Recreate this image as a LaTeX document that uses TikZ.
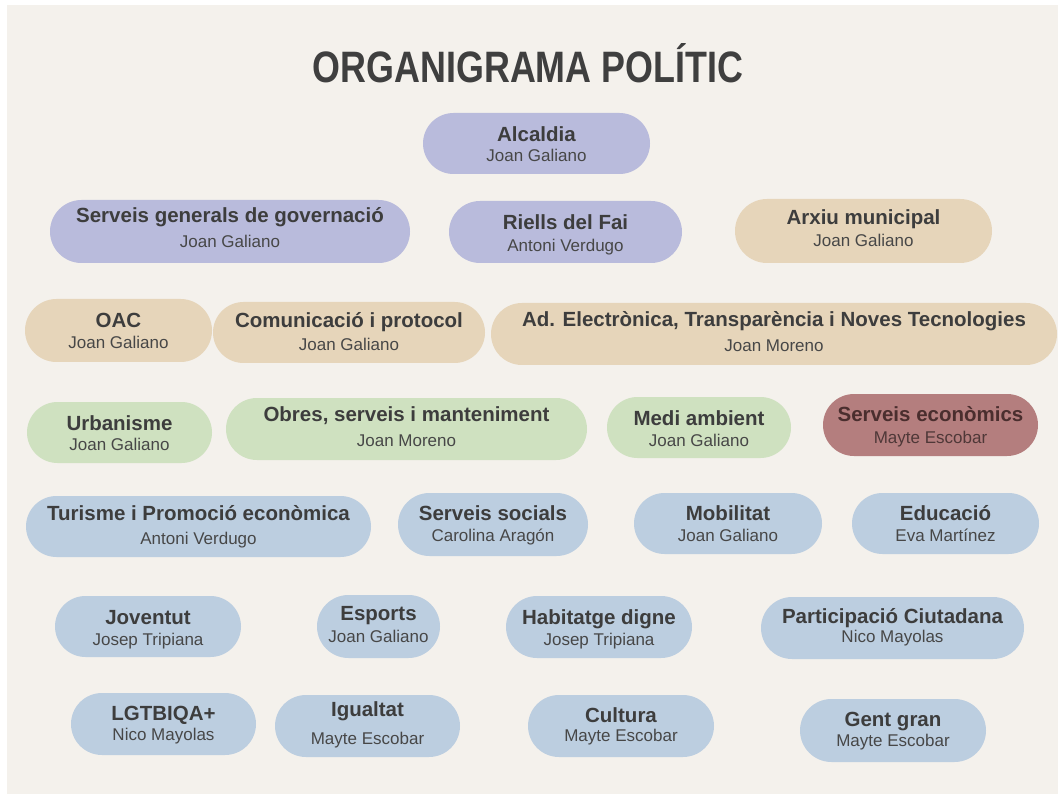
\documentclass[tikz,border=0pt]{standalone}
\usepackage{fontspec}
\setmainfont{Liberation Sans}
\usepackage{graphicx}
\definecolor{bgc}{HTML}{F4F1EC}
\definecolor{cpurple}{HTML}{B9BBDC}
\definecolor{cbeige}{HTML}{E6D5BA}
\definecolor{cgreen}{HTML}{CFE1C0}
\definecolor{cred}{HTML}{B47E7E}
\definecolor{cblue}{HTML}{BCCEE0}
\definecolor{tcol}{HTML}{3D3D3D}
\definecolor{ncol}{HTML}{474747}
\definecolor{titlec}{HTML}{3F3F3F}
\definecolor{redt}{HTML}{4A2E2E}
\definecolor{redn}{HTML}{4F3838}
\tikzset{
  boxshape/.style={rectangle, draw=none, inner sep=0pt, outer sep=0pt},
  ttl/.style={anchor=base, inner sep=0pt, text=tcol, font=\fontsize{20.5}{24}\selectfont\bfseries},
  nm/.style={anchor=base, inner sep=0pt, text=ncol, font=\fontsize{17}{20}\selectfont},
}
\newcommand\obox[6]{%
  \pgfmathsetmacro\obw{#4-#2}\pgfmathsetmacro\obh{#5-#3}%
  \pgfmathsetmacro\obcx{(#2+#4)/2}\pgfmathsetmacro\obcy{(#3+#5)/2}%
  \pgfmathsetmacro\obr{\obh/2}%
  \node[boxshape, fill=#6, minimum width=\obw pt, minimum height=\obh pt, rounded corners=\obr pt] (#1) at (\obcx,\obcy) {};}
\newcommand\otext[5]{%
  \node[ttl] (#1t) at (#1.center |- 0,#3) {#2};
  \node[nm] (#1n) at (#1.center |- 0,#5) {#4};}
\begin{document}
\begin{tikzpicture}[x=1pt,y=-1pt]
\fill[white] (0,0) rectangle (1058,794);
\fill[bgc] (7,5) rectangle (1058,794);
\useasboundingbox (0,0) rectangle (1058,794);
\node[anchor=base, inner sep=0pt, text=titlec, font=\fontsize{44}{50}\selectfont\bfseries] (title) at (528,83) {\scalebox{0.815}[1]{ORGANIGRAMA POLÍTIC}};
% row 1
\obox{alcaldia}{423}{113}{650}{174}{cpurple}
\otext{alcaldia}{Alcaldia}{142}{Joan Galiano}{162}
% row 2
\obox{sgg}{50}{200}{410}{263}{cpurple}
\otext{sgg}{Serveis generals de governació}{223}{Joan Galiano}{248}
\obox{riells}{449}{201}{682}{263}{cpurple}
\otext{riells}{Riells del Fai}{230}{Antoni Verdugo}{252}
\obox{arxiu}{735}{199}{992}{263}{cbeige}
\otext{arxiu}{Arxiu municipal}{225}{Joan Galiano}{246.5}
% row 3
\obox{oac}{25}{299}{212}{362}{cbeige}
\otext{oac}{OAC}{327.3}{Joan Galiano}{348.3}
\obox{comun}{213}{302}{485}{363}{cbeige}
\otext{comun}{Comunicació i protocol}{328}{Joan Galiano}{350.7}
\obox{adelec}{491}{303}{1057}{365}{cbeige}
\otext{adelec}{Ad. Electrònica, Transparència i Noves Tecnologies}{326.7}{Joan Moreno}{351.7}
% row 4
\obox{urban}{27}{402}{212}{463}{cgreen}
\otext{urban}{Urbanisme}{430}{Joan Galiano}{450.7}
\obox{obres}{226}{398}{587}{460}{cgreen}
\otext{obres}{Obres, serveis i manteniment}{421.7}{Joan Moreno}{446.7}
\obox{medi}{607}{397}{791}{458}{cgreen}
\otext{medi}{Medi ambient}{425}{Joan Galiano}{446.7}
\obox{seco}{823}{394}{1038}{456}{cred}
\begin{scope}[ttl/.append style={text=redt}, nm/.append style={text=redn}]
\otext{seco}{Serveis econòmics}{421.7}{Mayte Escobar}{443.3}
\end{scope}
% row 5
\obox{turisme}{26}{496}{371}{557}{cblue}
\otext{turisme}{Turisme i Promoció econòmica}{520.7}{Antoni Verdugo}{544}
\obox{ssoc}{398}{493}{588}{556}{cblue}
\otext{ssoc}{Serveis socials}{520.7}{Carolina Aragón}{541.7}
\obox{mobil}{634}{493}{822}{554}{cblue}
\otext{mobil}{Mobilitat}{520.7}{Joan Galiano}{541.7}
\obox{educ}{852}{493}{1039}{554}{cblue}
\otext{educ}{Educació}{520.7}{Eva Martínez}{541.7}
% row 6
\obox{jovent}{55}{596}{241}{657}{cblue}
\otext{jovent}{Joventut}{624}{Josep Tripiana}{645}
\obox{esports}{317}{595}{440}{658}{cblue}
\otext{esports}{Esports}{620.7}{Joan Galiano}{642.7}
\obox{habit}{506}{596}{692}{658}{cblue}
\otext{habit}{Habitatge digne}{624}{Josep Tripiana}{645}
\obox{partic}{761}{597}{1024}{659}{cblue}
\otext{partic}{Participació Ciutadana}{623.3}{Nico Mayolas}{642.7}
% row 7
\obox{lgtb}{71}{693}{256}{755}{cblue}
\otext{lgtb}{LGTBIQA+}{720}{Nico Mayolas}{740}
\obox{igual}{275}{695}{460}{757}{cblue}
\otext{igual}{Igualtat}{716.7}{Mayte Escobar}{744}
\obox{cultura}{528}{695}{714}{757}{cblue}
\otext{cultura}{Cultura}{722.7}{Mayte Escobar}{741.7}
\obox{gent}{800}{699}{986}{762}{cblue}
\otext{gent}{Gent gran}{726.7}{Mayte Escobar}{746}
\end{tikzpicture}
\end{document}
